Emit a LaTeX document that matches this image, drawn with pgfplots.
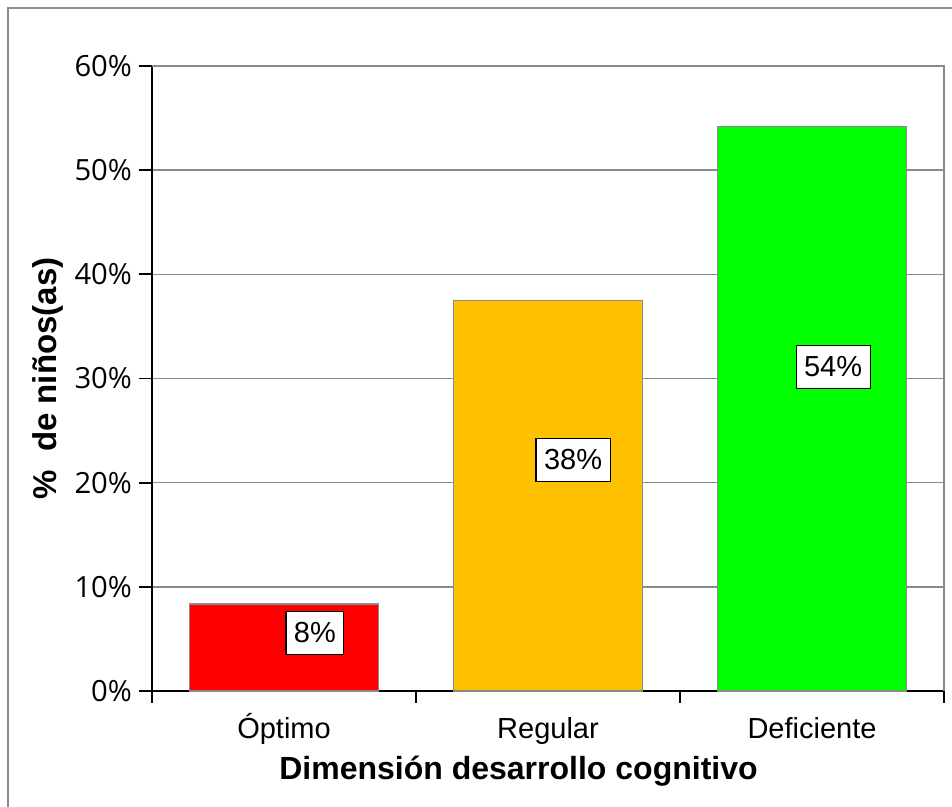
\documentclass[border=0pt]{standalone}
\usepackage{fontspec}
\setmainfont{Liberation Sans}
\newfontfamily\osans{Open Sans}
\usepackage{pgfplots}
\pgfplotsset{compat=1.18}
\definecolor{barred}{HTML}{FF0000}
\definecolor{barorange}{HTML}{FFC000}
\definecolor{bargreen}{HTML}{00FF00}
\definecolor{framegray}{HTML}{8C8C8C}
\definecolor{gridgray}{HTML}{8A8A8A}
\begin{document}
\begin{tikzpicture}
\useasboundingbox (-76pt,-58pt) rectangle (400pt,345.5pt);
\draw[framegray, line width=1pt] (-72pt,-90pt) rectangle (430pt,341.5pt);
\begin{axis}[
  at={(0pt,0pt)}, anchor=south west,
  scale only axis, width=396pt, height=312.5pt,
  xmin=-0.5, xmax=2.5, ymin=0, ymax=60,
  axis x line=bottom, axis y line=left,
  axis line style={-, black, line width=0.9pt},
  tick align=outside,
  xtick={0,1,2},
  xticklabels={Óptimo,Regular,Deficiente},
  major x tick style={draw=none},
  minor xtick={-0.5,0.5,1.5,2.5},
  minor tick length=6pt,
  minor x tick style={black, line width=0.9pt},
  ytick={0,10,20,30,40,50,60},
  major tick length=6.5pt,
  major y tick style={black, line width=0.9pt},
  /pgf/number format/assume math mode=true,
  yticklabel={\osans\pgfmathprintnumber{\tick}\%},
  y tick label style={font=\fontsize{14.6}{17}\selectfont\osans},
  x tick label style={font=\fontsize{14.5}{17}\selectfont, text height=10.6pt, text depth=3.2pt, yshift=-3pt},
  ymajorgrids,
  grid style={gridgray, line width=0.75pt},
  xlabel={\bfseries Dimensión desarrollo cognitivo},
  ylabel={\bfseries\%\ \ de niños(as)},
  xlabel style={font=\fontsize{16}{19}\selectfont, at={(axis description cs:0.5,0)}, anchor=base, yshift=-44.5pt, xshift=-14.75pt},
  ylabel style={font=\fontsize{16.5}{19}\selectfont, yshift=-1.5pt},
  clip=false,
]
\addplot[ybar, bar shift=0pt, bar width=0.716, fill=barred, draw=gridgray, line width=0.75pt] coordinates {(0,8.33)};
\addplot[ybar, bar shift=0pt, bar width=0.716, fill=barorange, draw=gridgray, line width=0.75pt] coordinates {(1,37.5)};
\addplot[ybar, bar shift=0pt, bar width=0.716, fill=bargreen, draw=gridgray, line width=0.75pt] coordinates {(2,54.17)};
\draw[gridgray, line width=0.75pt] (rel axis cs:0,1) -- (rel axis cs:1,1) -- (rel axis cs:1,0);
\tikzset{vlab/.style={draw=black, fill=white, line width=0.6pt, inner xsep=4pt, inner ysep=0pt, minimum height=21.5pt, font=\fontsize{14.5}{17}\selectfont}}
\node[vlab] at (axis cs:0.117,5.57) {8\%};
\node[vlab] at (axis cs:1.095,22.2) {38\%};
\node[vlab] at (axis cs:2.08,31.1) {54\%};
\end{axis}
\end{tikzpicture}
\end{document}
